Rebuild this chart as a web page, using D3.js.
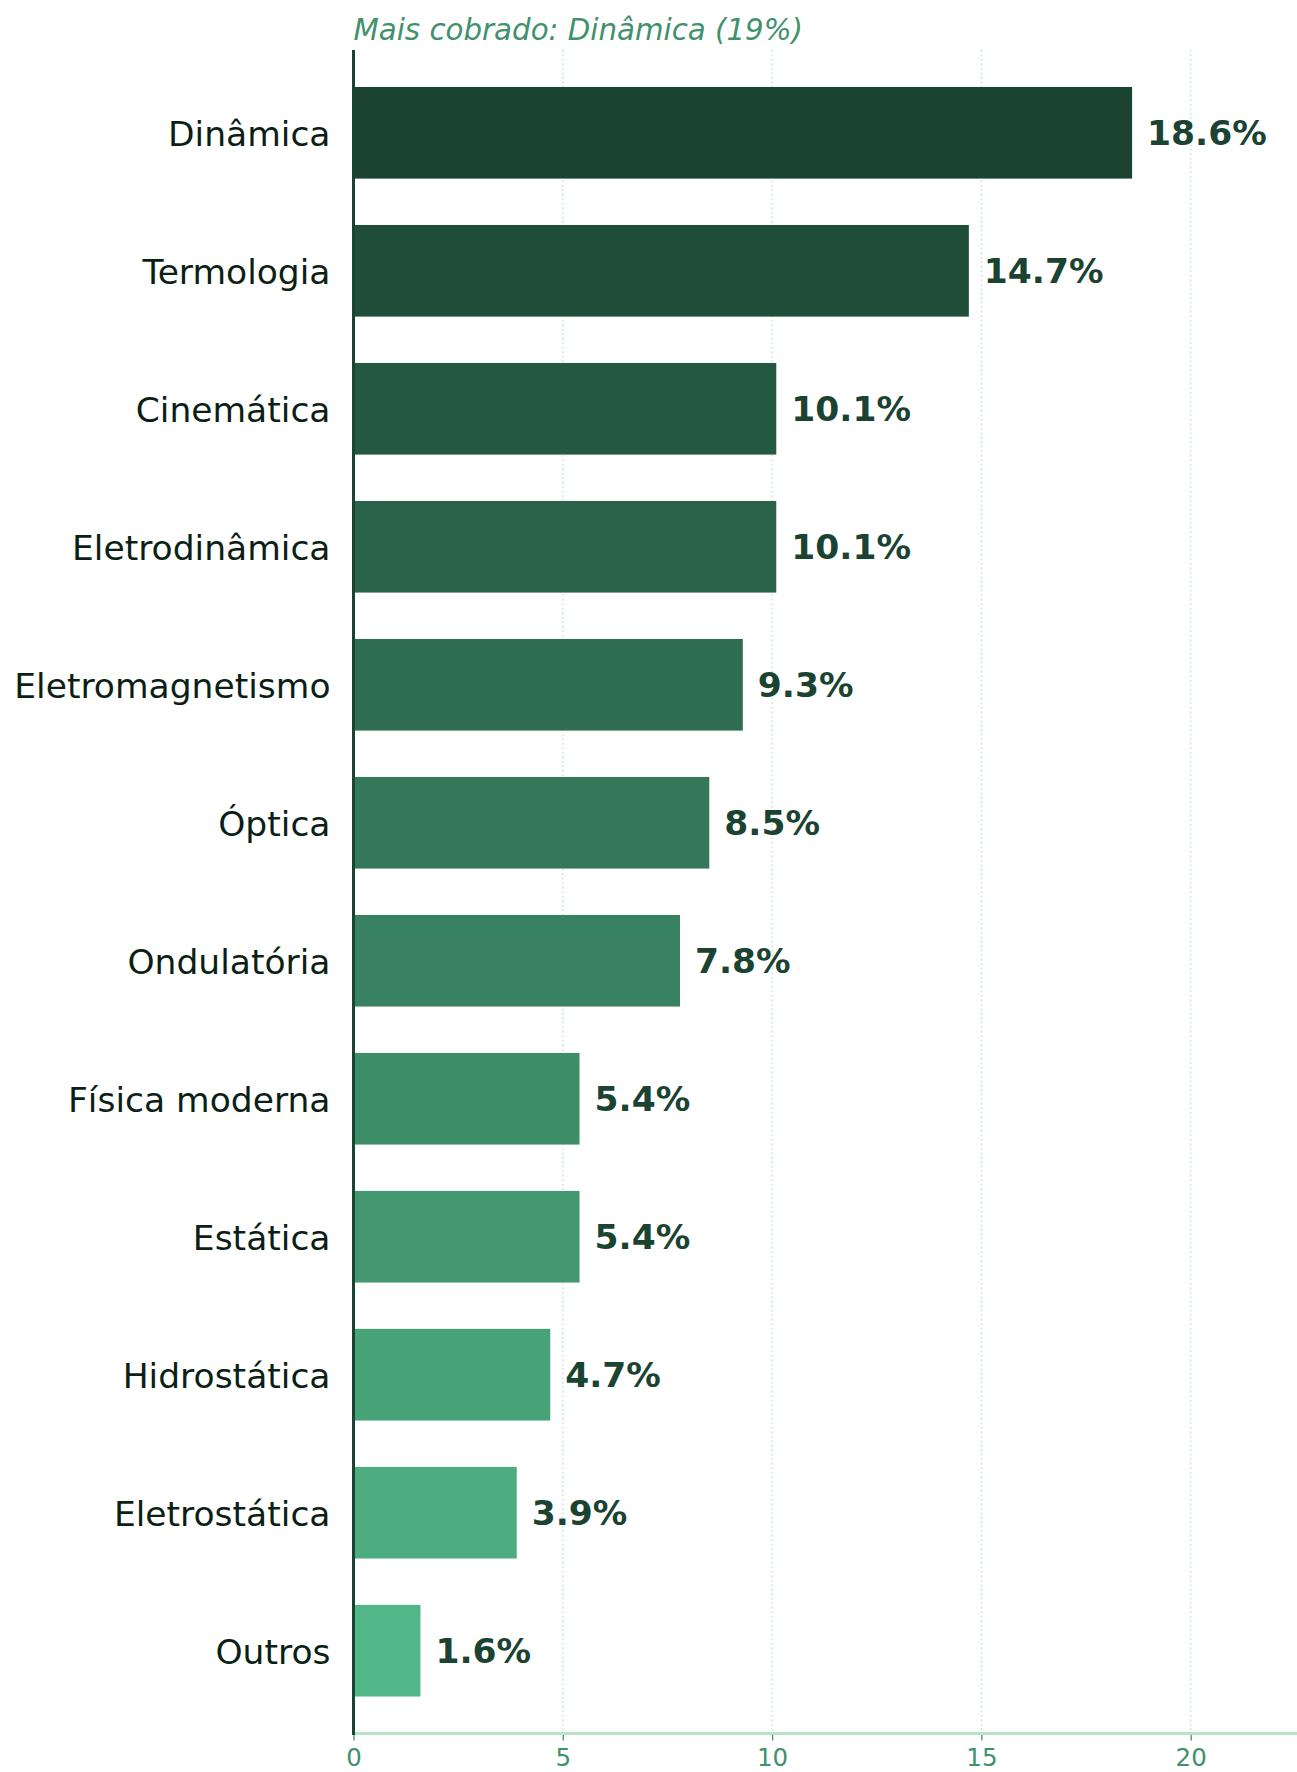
<!DOCTYPE html>
<html>
<head>
<meta charset="utf-8">
<script src="https://cdn.jsdelivr.net/npm/d3@7"></script>
<style>
  body { margin: 0; background: #fff; }
  svg { display: block; font-family: "DejaVu Sans", sans-serif; }
</style>
</head>
<body>
<div id="chart"></div>
<script>
// dados do gráfico
var topicos = ["Dinâmica", "Termologia", "Cinemática", "Eletrodinâmica", "Eletromagnetismo",
  "Óptica", "Ondulatória", "Física moderna", "Estática", "Hidrostática", "Eletrostática", "Outros"];
var percentuais = [18.6, 14.7, 10.1, 10.1, 9.3, 8.5, 7.8, 5.4, 5.4, 4.7, 3.9, 1.6];
var ticksX = [0, 5, 10, 15, 20];
var titulo = "Mais cobrado: Dinâmica (19%)";

var width = 1297,
  height = 1772,
  margin = {top: 50, bottom: 38.5, left: 353.5, right: 0};

var svg = d3.select("#chart").append("svg")
  .attr("width", width)
  .attr("height", height);

var x = d3.scaleLinear()
  .domain([0, 22.55])
  .range([margin.left, margin.left + 22.55 * 41.86]);

var y = d3.scaleBand()
  .domain(topicos)
  .range([margin.top, height - margin.bottom])
  .paddingInner(0.336)
  .paddingOuter(0.268);

// cor: escuro em cima, claro embaixo
var cor = d3.scaleLinear()
  .domain([0, topicos.length - 1])
  .range(["#1b4332", "#52b788"])
  .interpolate(d3.interpolateRgb);

// grade pontilhada
svg.append("g")
  .selectAll("line")
  .data(ticksX.slice(1))
  .enter()
  .append("line")
  .attr("x1", function(d){ return x(d); })
  .attr("x2", function(d){ return x(d); })
  .attr("y1", margin.top)
  .attr("y2", height - margin.bottom)
  .style("stroke", "#b7e4c7")
  .style("stroke-width", 1.3)
  .style("stroke-dasharray", "1.5,3");

// barras
svg.selectAll("rect.barra")
  .data(percentuais)
  .enter()
  .append("rect")
  .attr("class", "barra")
  .attr("x", x(0))
  .attr("y", function(d, i){ return y(topicos[i]); })
  .attr("width", function(d){ return x(d) - x(0); })
  .attr("height", y.bandwidth())
  .style("fill", function(d, i){ return cor(i); });

// rótulos de valor
svg.selectAll("text.valor")
  .data(percentuais)
  .enter()
  .append("text")
  .attr("class", "valor")
  .attr("x", function(d){ return x(d) + 15; })
  .attr("y", function(d, i){ return y(topicos[i]) + y.bandwidth() / 2; })
  .attr("dy", "0.36em")
  .style("font-size", "34.5px")
  .style("font-weight", "bold")
  .style("fill", "#1b4332")
  .text(function(d){ return d.toFixed(1) + "%"; });

// rótulos das categorias
svg.selectAll("text.cat")
  .data(topicos)
  .enter()
  .append("text")
  .attr("class", "cat")
  .attr("x", margin.left - 23)
  .attr("y", function(d){ return y(d) + y.bandwidth() / 2; })
  .attr("dy", "0.38em")
  .style("text-anchor", "end")
  .style("font-size", "34.5px")
  .style("fill", "#0b1f16")
  .text(function(d){ return d; });

// eixo x
var eixoX = svg.append("g")
  .attr("transform", "translate(0," + (height - margin.bottom) + ")")
  .call(d3.axisBottom(x).tickValues(ticksX).tickSize(7).tickPadding(8));
eixoX.select(".domain").remove();
eixoX.selectAll(".tick line").style("stroke", "#40916c").style("stroke-width", 1.3);
eixoX.selectAll(".tick text")
  .style("font-family", "DejaVu Sans, sans-serif")
  .style("font-size", "24.5px")
  .style("fill", "#40916c");

svg.append("line")
  .attr("x1", x(0))
  .attr("x2", width)
  .attr("y1", height - margin.bottom)
  .attr("y2", height - margin.bottom)
  .style("stroke", "#b7e4c7")
  .style("stroke-width", 3);

// eixo y (linha)
svg.append("line")
  .attr("x1", x(0))
  .attr("x2", x(0))
  .attr("y1", margin.top)
  .attr("y2", height - margin.bottom + 1.5)
  .style("stroke", "#1b4332")
  .style("stroke-width", 3);

// título
svg.append("text")
  .attr("x", margin.left)
  .attr("y", 40)
  .style("font-size", "29.3px")
  .style("font-style", "italic")
  .style("fill", "#40916c")
  .text(titulo);
</script>
</body>
</html>
